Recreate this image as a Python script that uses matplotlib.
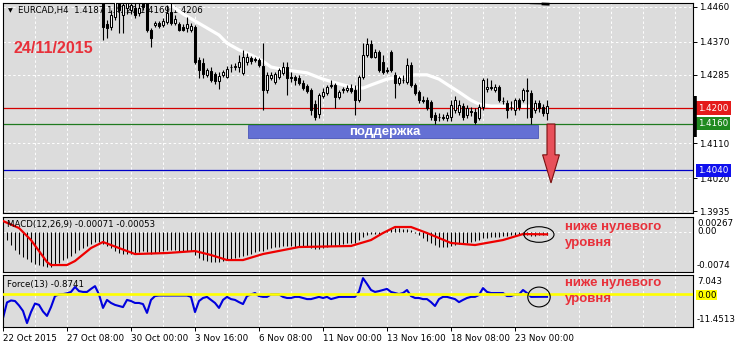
"""EURCAD H4 chart with MACD and Force panels, MetaTrader style."""

import matplotlib
matplotlib.use("Agg")
import matplotlib.pyplot as plt
import numpy as np
from matplotlib.patches import Rectangle, Ellipse, FancyArrow
from matplotlib.transforms import blended_transform_factory

W, H = 735, 345

# ── data (bar index: 0 = 22 Oct 2015 16:00, H4 bars) ─────────────────────────
FIRST = 25  # first bar that reaches into the price window

opens = [1.4489, 1.4415, 1.4407, 1.4433, 1.4484, 1.4438, 1.4456, 1.4451, 1.4456, 1.4443,
         1.4477, 1.4471, 1.4400, 1.4413, 1.4418, 1.4413, 1.4420, 1.4446, 1.4418, 1.4415,
         1.4407, 1.4405, 1.4400, 1.4407, 1.4323, 1.4315, 1.4285, 1.4295, 1.4287, 1.4269,
         1.4285, 1.4279, 1.4305, 1.4305, 1.4305, 1.4290, 1.4318, 1.4328, 1.4326, 1.4323,
         1.4308, 1.4246, 1.4277, 1.4267, 1.4279, 1.4290, 1.4305, 1.4279, 1.4279, 1.4277,
         1.4264, 1.4256, 1.4246, 1.4210, 1.4185, 1.4231, 1.4238, 1.4256, 1.4259, 1.4228,
         1.4246, 1.4246, 1.4251, 1.4246, 1.4220, 1.4279, 1.4336, 1.4364, 1.4331, 1.4343,
         1.4318, 1.4297, 1.4343, 1.4285, 1.4264, 1.4272, 1.4267, 1.4310, 1.4259, 1.4241,
         1.4220, 1.4220, 1.4215, 1.4182, 1.4177, 1.4174, 1.4174, 1.4177, 1.4195, 1.4190,
         1.4205, 1.4182, 1.4192, 1.4190, 1.4174, 1.4203, 1.4249, 1.4254, 1.4246, 1.4254,
         1.4218, 1.4213, 1.4203, 1.4195, 1.4220, 1.4220, 1.4244, 1.4238, 1.4195, 1.4213,
         1.4203, 1.4187]
highs = [1.4502, 1.4425, 1.4451, 1.4489, 1.4497, 1.4477, 1.4482, 1.4477, 1.4469, 1.4469,
         1.4489, 1.4484, 1.4405, 1.4423, 1.4423, 1.4430, 1.4464, 1.4469, 1.4438, 1.4420,
         1.4415, 1.4433, 1.4418, 1.4413, 1.4331, 1.4328, 1.4302, 1.4305, 1.4292, 1.4292,
         1.4297, 1.4308, 1.4313, 1.4315, 1.4336, 1.4349, 1.4341, 1.4333, 1.4331, 1.4328,
         1.4366, 1.4292, 1.4292, 1.4292, 1.4302, 1.4318, 1.4318, 1.4292, 1.4285, 1.4285,
         1.4272, 1.4261, 1.4251, 1.4220, 1.4238, 1.4251, 1.4259, 1.4272, 1.4264, 1.4246,
         1.4254, 1.4259, 1.4261, 1.4259, 1.4285, 1.4366, 1.4379, 1.4374, 1.4351, 1.4349,
         1.4336, 1.4305, 1.4349, 1.4292, 1.4282, 1.4285, 1.4328, 1.4318, 1.4264, 1.4246,
         1.4231, 1.4228, 1.4220, 1.4190, 1.4187, 1.4185, 1.4190, 1.4220, 1.4231, 1.4220,
         1.4213, 1.4208, 1.4203, 1.4200, 1.4210, 1.4277, 1.4277, 1.4272, 1.4261, 1.4259,
         1.4228, 1.4220, 1.4218, 1.4226, 1.4226, 1.4251, 1.4277, 1.4246, 1.4220, 1.4220,
         1.4210, 1.4220]
lows = [1.4374, 1.4379, 1.4400, 1.4425, 1.4392, 1.4392, 1.4441, 1.4441, 1.4430, 1.4436,
        1.4451, 1.4395, 1.4356, 1.4407, 1.4405, 1.4407, 1.4415, 1.4413, 1.4413, 1.4397,
        1.4397, 1.4395, 1.4395, 1.4313, 1.4277, 1.4277, 1.4279, 1.4267, 1.4261, 1.4249,
        1.4279, 1.4277, 1.4292, 1.4297, 1.4292, 1.4285, 1.4310, 1.4313, 1.4318, 1.4305,
        1.4195, 1.4238, 1.4272, 1.4261, 1.4274, 1.4285, 1.4233, 1.4267, 1.4259, 1.4259,
        1.4246, 1.4238, 1.4182, 1.4169, 1.4174, 1.4226, 1.4233, 1.4251, 1.4200, 1.4223,
        1.4238, 1.4241, 1.4238, 1.4182, 1.4215, 1.4274, 1.4331, 1.4328, 1.4328, 1.4292,
        1.4287, 1.4290, 1.4292, 1.4226, 1.4259, 1.4264, 1.4261, 1.4254, 1.4233, 1.4213,
        1.4213, 1.4195, 1.4169, 1.4159, 1.4167, 1.4169, 1.4167, 1.4167, 1.4187, 1.4182,
        1.4169, 1.4174, 1.4180, 1.4159, 1.4169, 1.4195, 1.4241, 1.4246, 1.4241, 1.4215,
        1.4210, 1.4174, 1.4195, 1.4182, 1.4195, 1.4215, 1.4174, 1.4159, 1.4187, 1.4190,
        1.4180, 1.4169]
closes = [1.4407, 1.4405, 1.4438, 1.4471, 1.4451, 1.4464, 1.4469, 1.4464, 1.4438, 1.4456,
          1.4459, 1.4400, 1.4379, 1.4418, 1.4410, 1.4423, 1.4443, 1.4418, 1.4428, 1.4400,
          1.4400, 1.4415, 1.4410, 1.4318, 1.4297, 1.4287, 1.4297, 1.4272, 1.4269, 1.4282,
          1.4292, 1.4300, 1.4304, 1.4308, 1.4318, 1.4331, 1.4331, 1.4320, 1.4323, 1.4310,
          1.4246, 1.4285, 1.4285, 1.4287, 1.4297, 1.4305, 1.4277, 1.4278, 1.4272, 1.4264,
          1.4251, 1.4244, 1.4195, 1.4177, 1.4233, 1.4241, 1.4254, 1.4259, 1.4228, 1.4241,
          1.4249, 1.4251, 1.4244, 1.4220, 1.4279, 1.4336, 1.4364, 1.4331, 1.4343, 1.4297,
          1.4292, 1.4296, 1.4297, 1.4264, 1.4277, 1.4271, 1.4310, 1.4259, 1.4238, 1.4220,
          1.4219, 1.4200, 1.4177, 1.4169, 1.4176, 1.4177, 1.4182, 1.4208, 1.4220, 1.4208,
          1.4177, 1.4200, 1.4190, 1.4164, 1.4203, 1.4272, 1.4254, 1.4251, 1.4254, 1.4220,
          1.4217, 1.4195, 1.4202, 1.4220, 1.4203, 1.4246, 1.4246, 1.4177, 1.4213, 1.4200,
          1.4187, 1.4206]

# white moving average
ma_bars = [39, 42, 45, 48, 51, 54, 56, 59, 62, 65, 67, 71, 76, 80, 84, 87, 90, 92,
           96, 99, 103, 106, 109, 112, 114, 117, 119, 122, 128, 134]
ma_vals = [1.4479, 1.4464, 1.4441, 1.4423, 1.4405, 1.4387, 1.4366, 1.4349, 1.4336,
           1.4320, 1.4305, 1.4297, 1.4290, 1.4274, 1.4262, 1.4254, 1.4251, 1.4259,
           1.4274, 1.4279, 1.4285, 1.4285, 1.4274, 1.4254, 1.4241, 1.4220, 1.4210,
           1.4205, 1.4205, 1.4205]

# MACD(12,26,9) main (histogram), one value per bar
macd_main = [-0.00084, -0.00159, -0.00252, -0.00345, -0.00420, -0.00476, -0.00513, -0.00569,
             -0.00606, -0.00625, -0.00643, -0.00662, -0.00662, -0.00625, -0.00587, -0.00532,
             -0.00494, -0.00457, -0.00401, -0.00345, -0.00308, -0.00270, -0.00233, -0.00196,
             -0.00196, -0.00233, -0.00270, -0.00308, -0.00364, -0.00401, -0.00420, -0.00420,
             -0.00420, -0.00401, -0.00382, -0.00364, -0.00382, -0.00420, -0.00401, -0.00382,
             -0.00364, -0.00345, -0.00345, -0.00345, -0.00364, -0.00364, -0.00364, -0.00364,
             -0.00438, -0.00494, -0.00532, -0.00550, -0.00569, -0.00569, -0.00569, -0.00550,
             -0.00532, -0.00513, -0.00494, -0.00476, -0.00457, -0.00438, -0.00420, -0.00382,
             -0.00364, -0.00364, -0.00326, -0.00308, -0.00289, -0.00289, -0.00270, -0.00270,
             -0.00270, -0.00289, -0.00289, -0.00289, -0.00289, -0.00308, -0.00326, -0.00326,
             -0.00308, -0.00289, -0.00270, -0.00270, -0.00252, -0.00233, -0.00214, -0.00214,
             -0.00214, -0.00159, -0.00103, -0.00065, -0.00047, -0.00047, -0.00065, -0.00020,
             0.00020, 0.00040, 0.00060, 0.00060, 0.00050, 0.00040, 0.00020, -0.00020,
             -0.00065, -0.00120, -0.00170, -0.00215, -0.00260, -0.00289, -0.00289, -0.00289,
             -0.00270, -0.00252, -0.00233, -0.00214, -0.00214, -0.00196, -0.00177, -0.00159,
             -0.00121, -0.00121, -0.00103, -0.00103, -0.00103, -0.00084, -0.00084, -0.00065,
             -0.00065, -0.00065, -0.00065, -0.00065, -0.00075, -0.00075, -0.00070, -0.00072,
             -0.00071]
# MACD signal line (red), read points
sig_bars = [0, 4, 7, 11, 12, 16, 18, 22, 25, 29, 33, 41, 48, 52, 56, 60, 65, 74, 87,
            92, 95, 98, 102, 106, 112, 118, 125, 130, 136]
sig_vals = [0.00196, 0.00065, -0.00159, -0.00569, -0.00625, -0.00625, -0.00550, -0.00308,
            -0.00196, -0.00308, -0.00420, -0.00401, -0.00364, -0.00438, -0.00532, -0.00532,
            -0.00420, -0.00289, -0.00270, -0.00159, -0.00028, 0.00084, 0.00084, -0.00028,
            -0.00214, -0.00252, -0.00159, -0.00047, -0.00053]

# Force(13), one value per bar
force = [-8.6, -2.9, -2.2, -2.4, -4.0, -6.0, -10.4, -6.4, -3.3, -3.8, -6.2, -7.8, -4.6, -0.6,
         0.0, 0.1, 0.4, 0.9, 2.7, 1.2, 0.9, 0.9, 2.0, 3.0, 0.0, -4.9, -2.0, -3.1, -3.8, -4.2,
         -4.6, -2.0, -2.4, -3.1, -3.1, -3.5, -6.7, -2.0, -0.6, -0.4, -0.4, -0.4, -0.4, -0.4,
         -0.4, -0.4, -0.4, -0.9, -6.4, -2.4, -1.3, -0.9, -2.0, -3.1, -4.9, -2.0, -0.9, -1.7,
         -2.0, -2.8, -3.5, -0.6, 0.0, 0.5, -0.6, -0.9, -0.9, 0.0, 0.0, 0.0, -0.9, -1.3, -1.3,
         -0.9, -0.9, -1.3, -1.7, -1.7, -1.3, -0.9, -1.3, -0.9, -1.7, -1.3, -0.9, -0.9, -0.9,
         -0.9, -0.9, 1.0, 5.9, 3.8, 1.6, 0.9, 1.2, 1.6, 2.0, 0.9, 0.5, 0.1, 0.5, 1.6, -0.6,
         -1.3, -1.3, -1.7, -1.7, -2.8, -4.2, -1.7, -0.9, -0.9, -1.3, -1.7, -2.8, -2.0, -1.3,
         -0.9, -0.9, -0.2, 2.3, 0.9, 0.5, 0.5, 0.5, 0.5, -0.6, -0.6, 0.0, 0.0, 1.6, 0.5, -0.9,
         -0.87, -0.87, -0.87, -0.8741]

date_bars = [0, 16, 32, 48, 64, 80, 96, 112, 128]
date_labels = ["22 Oct 2015", "27 Oct 08:00", "30 Oct 00:00", "3 Nov 16:00", "6 Nov 08:00",
               "11 Nov 00:00", "13 Nov 16:00", "18 Nov 08:00", "23 Nov 00:00"]
price_ticks = [1.4460, 1.4370, 1.4285, 1.4200, 1.4110, 1.4020, 1.3935]
price_tick_labels = ["1.4460", "1.4370", "1.4285", "", "1.4110", "1.4020", "1.3935"]
LEVEL_RED, LEVEL_GREEN, LEVEL_BLUE = 1.4200, 1.4160, 1.4040

BG = "#dcdcdc"
RED_TXT = "#e8303a"

fig = plt.figure(figsize=(W / 100, H / 100), dpi=100)
fig.patch.set_facecolor("white")


def px_axes(x0, y0, x1, y1):
    return fig.add_axes([x0 / W, 1 - y1 / H, (x1 - x0) / W, (y1 - y0) / H])


def at(ax, x, y, s, **kw):
    # text placed in figure pixels, but owned by an axes (for z-order)
    return ax.text(x / W, 1 - y / H, s, transform=fig.transFigure, **kw)


def style(ax):
    ax.set_facecolor(BG)
    for sp in ax.spines.values():
        sp.set_color("black")
        sp.set_linewidth(0.8)
    ax.set_xlim(-0.125, 172.5)
    for gx in range(0, 173, 8):
        ax.axvline(gx, color="white", lw=0.7, ls=(0, (2.5, 2.5)), zorder=0.5)
    ax.set_xticks([])
    ax.yaxis.tick_right()


ax = px_axes(2.5, 3, 693, 213)
axm = px_axes(2.5, 216.5, 693, 272)
axf = px_axes(2.5, 274.5, 693, 327)
for a in (ax, axm, axf):
    style(a)

# ── main price window ────────────────────────────────────────────────────────
ax.set_ylim(1.3931, 1.4469)
ax.set_yticks(price_ticks)
ax.set_yticklabels(price_tick_labels)
ax.tick_params(axis="y", length=3, width=0.7, labelsize=6.3, pad=1.5)
for p in price_ticks:
    ax.axhline(p, color="white", lw=0.7, ls=(0, (2.5, 2.5)), zorder=0.5)

at(ax, 10, 11, "\u25BC", fontsize=4.5, va="center", ha="center", zorder=1)
at(ax, 18, 11, "EURCAD,H4  1.4187 1.4220 1.4169 1.4206", fontsize=6.2,
   va="center", ha="left", zorder=1)

o = np.array(opens)
h = np.array(highs)
l = np.array(lows)
c = np.array(closes)
bars = np.arange(FIRST, FIRST + len(o))
up = c >= o

ax.plot(ma_bars, ma_vals, color="white", lw=2.3, zorder=2.5, solid_capstyle="round")

ax.axhline(LEVEL_RED, color="#d40000", lw=0.9, zorder=2)
ax.axhline(LEVEL_GREEN, color="#1f7a1f", lw=0.9, zorder=2)
ax.axhline(LEVEL_BLUE, color="#0000c8", lw=0.9, zorder=2)

ax.vlines(bars, l, h, color="black", lw=0.8, zorder=3)
ax.bar(bars[up], (c - o)[up], bottom=o[up], width=0.68, facecolor="white",
       edgecolor="black", lw=0.75, zorder=4)
ax.bar(bars[~up], (o - c)[~up], bottom=c[~up], width=0.68, facecolor="black",
       edgecolor="black", lw=0.75, zorder=4)

# support zone
ax.add_patch(Rectangle((61.25, 1.4123), 72.5, 0.00335, facecolor="#6470d4",
                       edgecolor="#4a55b8", lw=0.6, zorder=5))
ax.text(95.5, 1.41395, "поддержка", color="white", fontsize=9.5, fontweight="bold",
        family="Liberation Sans", ha="center", va="center", zorder=6)

# down arrow
ax.add_patch(FancyArrow(137.0, 1.4159, 0, -0.0151, width=2.0, head_width=4.2,
                        head_length=0.0072, length_includes_head=True,
                        facecolor="#e8505a", edgecolor="#7a1010", lw=0.8, zorder=6))

ax.text(2.6, 1.4352, "24/11/2015", color=RED_TXT, fontsize=11.5, fontweight="bold",
        family="Liberation Sans", ha="left", va="center", zorder=6)

# short trend line stub at the top edge
ax.plot([131.8, 136.3], [1.44675, 1.44665], color="black", lw=0.8, zorder=6, clip_on=False)
ax.plot([135.0, 136.3], [1.44665, 1.44660], color="black", lw=2.0, zorder=6, clip_on=False)

# price tags at the right edge
tr = blended_transform_factory(fig.transFigure, ax.transData)
for val, col in ((LEVEL_RED, "#e41b1b"), (LEVEL_GREEN, "#1f8a1f"), (LEVEL_BLUE, "#1010ee")):
    ax.text(698 / W, val, f"{val:.4f}", transform=tr, color="white", fontsize=6.3,
            ha="left", va="center", zorder=10, clip_on=False,
            bbox=dict(boxstyle="square,pad=0.25", facecolor=col, edgecolor="none"))
trb = blended_transform_factory(ax.transAxes, ax.transData)
ax.plot([1.0025, 1.0025], [1.4232, 1.4126], transform=trb, color="black", lw=2.6,
        clip_on=False, solid_capstyle="butt", zorder=10)

# ── MACD window ──────────────────────────────────────────────────────────────
axm.set_ylim(-0.00755, 0.0028)
axm.set_yticks([])
axm.axhline(0, color="white", lw=0.7, ls=(0, (2.5, 2.5)), zorder=0.5)
mb = np.arange(len(macd_main))
axm.vlines(mb, 0, macd_main, color="black", lw=0.75, zorder=2)
axm.plot(sig_bars, sig_vals, color="#ee0000", lw=1.6, zorder=3)
at(axm, 7, 225, "MACD(12,26,9) -0.00071 -0.00053", fontsize=6.2, ha="left",
   va="center", zorder=4)
for y, s in ((223, "0.00267"), (231.5, "0.00"), (266, "-0.0074")):
    at(axm, 697, y, s, fontsize=6.3, ha="left", va="center", clip_on=False)
axm.add_patch(Ellipse((134.0, -0.00056), 7.5, 0.0029, fill=False, edgecolor="black",
                      lw=0.8, zorder=5))
at(axm, 565, 227, "ниже нулевого", color=RED_TXT, fontsize=9.5, fontweight="bold",
   family="Liberation Sans", ha="left", va="center", zorder=6)
at(axm, 565, 243, "уровня", color=RED_TXT, fontsize=9.5, fontweight="bold",
   family="Liberation Sans", ha="left", va="center", zorder=6)

# ── Force window ─────────────────────────────────────────────────────────────
axf.set_ylim(-11.82, 7.22)
axf.set_yticks([])
fb = np.arange(len(force))
axf.plot(fb, force, color="#0000dd", lw=1.5, zorder=2)
axf.axhline(0, color="#ffff00", lw=1.9, zorder=3)
at(axf, 7, 284, "Force(13) -0.8741", fontsize=6.2, ha="left", va="center", zorder=4)
at(axf, 697, 281, "7.043", fontsize=6.3, ha="left", va="center", clip_on=False)
at(axf, 697, 295, "0.00", fontsize=6.3, ha="left", va="center", clip_on=False,
   bbox=dict(boxstyle="square,pad=0.1", facecolor="#ffff00", edgecolor="none"))
at(axf, 697, 320, "-11.4513", fontsize=6.3, ha="left", va="center", clip_on=False)
axf.add_patch(Ellipse((134.0, -0.94), 5.6, 7.2, fill=False, edgecolor="black",
                      lw=0.8, zorder=5))
at(axf, 565, 283, "ниже нулевого", color=RED_TXT, fontsize=9.5, fontweight="bold",
   family="Liberation Sans", ha="left", va="center", zorder=6)
at(axf, 565, 299, "уровня", color=RED_TXT, fontsize=9.5, fontweight="bold",
   family="Liberation Sans", ha="left", va="center", zorder=6)

axf.set_xticks(date_bars)
axf.set_xticklabels(date_labels, ha="left")
axf.tick_params(axis="x", length=3, width=0.7, labelsize=6.3, pad=2)

fig.savefig("out.png", dpi=100, facecolor="white")
